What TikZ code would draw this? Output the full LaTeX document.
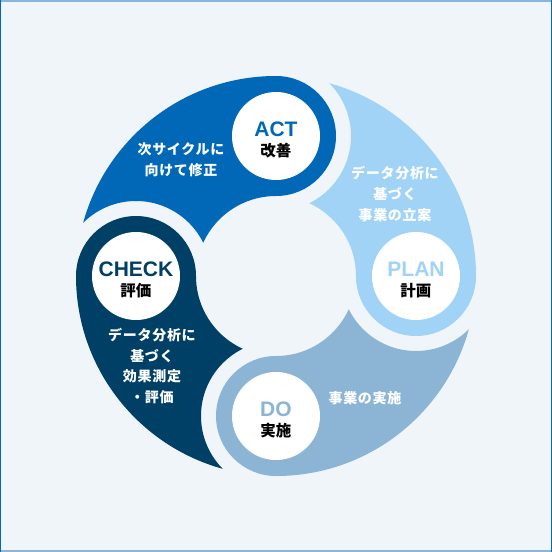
\documentclass[tikz,border=0pt]{standalone}
\usepackage{fontspec}
\setmainfont{Liberation Sans}
\newfontfamily\jpfont{Noto Sans CJK JP}
\newfontfamily\jpwidefont{Noto Sans CJK JP}[LetterSpace=5]
\usepackage{tikz}
\usepackage{xcolor}
\usetikzlibrary{positioning, calc}
\definecolor{PdcaAct}{HTML}{0068B7}
\definecolor{PdcaPlan}{HTML}{A0D3F6}
\definecolor{PdcaDo}{HTML}{8CB4D4}
\definecolor{PdcaCheck}{HTML}{004066}
\definecolor{PdcaBack}{HTML}{F0F5FA}
\definecolor{PdcaFrame}{HTML}{8AB6DC}
\tikzset{
    % Node styles
    headdisk/.style={
        circle,
        fill=white,
        minimum size=88pt,
        inner sep=0pt
    },
    enlabel/.style={
        inner sep=0pt,
        font=\bfseries\fontsize{21}{21}\selectfont
    },
    jplabel/.style={
        inner sep=0pt,
        text=black,
        font=\jpfont\bfseries\fontsize{15.5}{15.5}\selectfont
    },
    desctext/.style={
        inner sep=0pt,
        text=white,
        align=center,
        font=\jpwidefont\bfseries\fontsize{14}{20.8}\selectfont
    },
    % Ring styles
    gapclip/.style={
        even odd rule
    }
}

\begin{document}
\begin{tikzpicture}[x=1pt, y=1pt]
                \useasboundingbox (-276,-276) rectangle (276,276);

                % Background and frame
                \fill[PdcaBack] (-276,-276) rectangle (276,276);
                \draw[PdcaFrame, line width=2pt] (-276,275) -- (276,275);
                \draw[PdcaFrame, line width=2pt] (-276,-275) -- (276,-275);
                \draw[PdcaAct, line width=1pt] (-275.5,-276) -- (-275.5,276);
                \draw[PdcaAct, line width=1pt] (275.5,-276) -- (275.5,276);

                % ACT segment
                \begin{scope}[gapclip]
                    \clip (-276,-276) rectangle (276,276) (180:140) circle (75);
                    \fill[PdcaAct] (90:200) arc[start angle=90, end angle=180, radius=200]
                        -- (180:80) arc[start angle=180, end angle=90, radius=80] -- cycle;
                \end{scope}
                \fill[PdcaAct] (90:140) circle (60);

                % PLAN segment
                \begin{scope}[gapclip]
                    \clip (-276,-276) rectangle (276,276) (90:140) circle (75);
                    \fill[PdcaPlan] (0:200) arc[start angle=0, end angle=90, radius=200]
                        -- (90:80) arc[start angle=90, end angle=0, radius=80] -- cycle;
                \end{scope}
                \fill[PdcaPlan] (0:140) circle (60);

                % DO segment
                \begin{scope}[gapclip]
                    \clip (-276,-276) rectangle (276,276) (0:140) circle (75);
                    \fill[PdcaDo] (-90:200) arc[start angle=-90, end angle=0, radius=200]
                        -- (0:80) arc[start angle=0, end angle=-90, radius=80] -- cycle;
                \end{scope}
                \fill[PdcaDo] (-90:140) circle (60);

                % CHECK segment
                \begin{scope}[gapclip]
                    \clip (-276,-276) rectangle (276,276) (-90:140) circle (75);
                    \fill[PdcaCheck] (180:200) arc[start angle=180, end angle=270, radius=200]
                        -- (270:80) arc[start angle=270, end angle=180, radius=80] -- cycle;
                \end{scope}
                \fill[PdcaCheck] (180:140) circle (60);

                % White heads
                \node[headdisk] (act) at (90:140) {};
                \node[headdisk] (plan) at (0:140) {};
                \node[headdisk] (do) at (-90:140) {};
                \node[headdisk] (check) at (180:140) {};

                % Head labels
                \node[enlabel, PdcaAct] (actEn) at ([yshift=6.5pt]act.center) {ACT};
                \node[jplabel] (actJp) at ([yshift=-15pt]act.center) {改善};
                \node[enlabel, PdcaPlan] (planEn) at ([yshift=6.5pt]plan.center) {PLAN};
                \node[jplabel] (planJp) at ([yshift=-15pt]plan.center) {計画};
                \node[enlabel, PdcaDo] (doEn) at ([yshift=6.5pt]do.center) {DO};
                \node[jplabel] (doJp) at ([yshift=-15pt]do.center) {実施};
                \node[enlabel, PdcaCheck] (checkEn) at ([yshift=6.5pt]check.center) {CHECK};
                \node[jplabel] (checkJp) at ([yshift=-15pt]check.center) {評価};

                % Descriptions
                \node[desctext] (actText) at (-95,116) {次サイクルに\\向けて修正};
                \node[desctext] (planText) at (119,82) {データ分析に\\基づく\\事業の立案};
                \node[desctext] (doText) at (89,-122) {事業の実施};
                \node[desctext] (checkText) at (-124,-90) {データ分析に\\基づく\\効果測定\\・評価};
\end{tikzpicture}
\end{document}
